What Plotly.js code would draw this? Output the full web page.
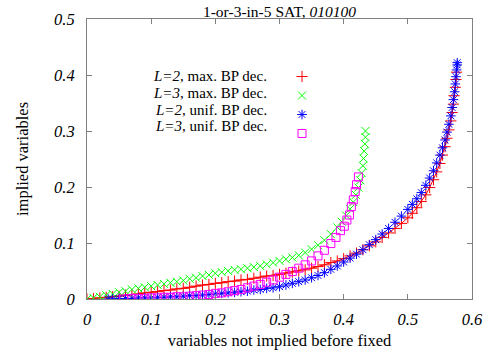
<!DOCTYPE html>
<html><head><meta charset="utf-8">
<script src="https://cdn.plot.ly/plotly-3.0.1.min.js"></script>
<style>html,body{margin:0;padding:0;background:#fff}#chart{width:500px;height:350px}</style>
</head><body><div id="chart"></div>
<script>
// L=2, max. BP dec.
const redX = [0, 0.01, 0.02, 0.03, 0.04, 0.05, 0.06, 0.07, 0.08, 0.09, 0.10, 0.11, 0.12, 0.13, 0.14, 0.15, 0.16, 0.17, 0.18, 0.19, 0.20, 0.21, 0.22, 0.23, 0.24, 0.25, 0.26, 0.27, 0.28, 0.29, 0.30, 0.31, 0.32, 0.33, 0.34, 0.35, 0.36, 0.37, 0.38, 0.39, 0.40, 0.41, 0.42, 0.43, 0.44, 0.45, 0.46, 0.47, 0.48, 0.49, 0.50, 0.507, 0.514, 0.521, 0.528, 0.534, 0.540, 0.545, 0.550, 0.554, 0.558, 0.561, 0.564, 0.567, 0.569, 0.571, 0.572, 0.574, 0.575, 0.576];
const redY = [0, 0.001, 0.002, 0.003, 0.004, 0.005, 0.007, 0.008, 0.009, 0.011, 0.012, 0.013, 0.015, 0.016, 0.018, 0.019, 0.021, 0.023, 0.025, 0.026, 0.028, 0.029, 0.031, 0.032, 0.034, 0.035, 0.037, 0.039, 0.041, 0.042, 0.044, 0.046, 0.048, 0.050, 0.052, 0.055, 0.058, 0.061, 0.065, 0.068, 0.072, 0.077, 0.082, 0.088, 0.095, 0.102, 0.110, 0.118, 0.126, 0.135, 0.145, 0.153, 0.163, 0.174, 0.186, 0.199, 0.213, 0.227, 0.242, 0.257, 0.272, 0.287, 0.302, 0.318, 0.333, 0.348, 0.363, 0.378, 0.392, 0.405];
// L=3, max. BP dec.
const greenX = [0, 0.01, 0.02, 0.03, 0.04, 0.05, 0.06, 0.07, 0.08, 0.09, 0.10, 0.11, 0.12, 0.13, 0.14, 0.15, 0.16, 0.17, 0.18, 0.19, 0.20, 0.21, 0.22, 0.23, 0.24, 0.25, 0.26, 0.27, 0.28, 0.29, 0.30, 0.31, 0.32, 0.33, 0.34, 0.35, 0.36, 0.37, 0.38, 0.39, 0.397, 0.404, 0.410, 0.415, 0.419, 0.423, 0.426, 0.428, 0.430, 0.431, 0.432, 0.433, 0.434, 0.434];
const greenY = [0, 0.002, 0.004, 0.007, 0.009, 0.012, 0.014, 0.017, 0.019, 0.021, 0.023, 0.025, 0.027, 0.029, 0.031, 0.033, 0.036, 0.038, 0.041, 0.043, 0.046, 0.048, 0.050, 0.052, 0.053, 0.055, 0.057, 0.059, 0.062, 0.065, 0.068, 0.071, 0.074, 0.078, 0.083, 0.089, 0.096, 0.105, 0.116, 0.128, 0.138, 0.149, 0.161, 0.173, 0.186, 0.199, 0.212, 0.225, 0.238, 0.251, 0.264, 0.277, 0.289, 0.300];
// L=2, unif. BP dec.
const blueX = [0.033, 0.04, 0.05, 0.06, 0.07, 0.08, 0.09, 0.10, 0.11, 0.12, 0.13, 0.14, 0.15, 0.16, 0.17, 0.18, 0.19, 0.20, 0.21, 0.22, 0.23, 0.24, 0.25, 0.26, 0.27, 0.28, 0.29, 0.30, 0.31, 0.32, 0.33, 0.34, 0.35, 0.36, 0.37, 0.38, 0.39, 0.40, 0.41, 0.42, 0.43, 0.44, 0.45, 0.46, 0.47, 0.48, 0.49, 0.50, 0.507, 0.514, 0.521, 0.528, 0.534, 0.540, 0.545, 0.550, 0.554, 0.558, 0.561, 0.564, 0.567, 0.569, 0.571, 0.573, 0.574, 0.575, 0.576, 0.577, 0.577];
const blueY = [0, 0.000, 0.001, 0.001, 0.001, 0.002, 0.002, 0.002, 0.003, 0.003, 0.004, 0.004, 0.005, 0.006, 0.006, 0.007, 0.008, 0.009, 0.010, 0.011, 0.012, 0.013, 0.014, 0.016, 0.017, 0.019, 0.020, 0.022, 0.025, 0.028, 0.031, 0.034, 0.038, 0.042, 0.047, 0.053, 0.059, 0.066, 0.073, 0.080, 0.088, 0.097, 0.106, 0.116, 0.126, 0.137, 0.148, 0.160, 0.169, 0.179, 0.190, 0.203, 0.216, 0.229, 0.243, 0.257, 0.270, 0.284, 0.298, 0.312, 0.327, 0.342, 0.356, 0.370, 0.384, 0.397, 0.409, 0.418, 0.422];
// L=3, unif. BP dec.
const magX = [0.057, 0.07, 0.08, 0.09, 0.10, 0.11, 0.12, 0.13, 0.14, 0.15, 0.16, 0.17, 0.18, 0.19, 0.20, 0.21, 0.22, 0.23, 0.24, 0.25, 0.26, 0.27, 0.28, 0.29, 0.30, 0.31, 0.32, 0.33, 0.34, 0.35, 0.36, 0.37, 0.38, 0.388, 0.395, 0.401, 0.405, 0.409, 0.412, 0.415, 0.418, 0.420, 0.423];
const magY = [0, 0.001, 0.001, 0.001, 0.002, 0.002, 0.003, 0.003, 0.004, 0.004, 0.005, 0.006, 0.007, 0.008, 0.010, 0.011, 0.013, 0.015, 0.017, 0.020, 0.023, 0.026, 0.030, 0.034, 0.039, 0.044, 0.049, 0.055, 0.061, 0.068, 0.077, 0.087, 0.099, 0.110, 0.122, 0.130, 0.141, 0.150, 0.165, 0.177, 0.192, 0.204, 0.218];

const legendLabels = ["<i>L=2</i>, max. BP dec.", "<i>L=3</i>, max. BP dec.", "<i>L=2</i>, unif. BP dec.", "<i>L=3</i>, unif. BP dec."];
const xTicks = [0, 0.1, 0.2, 0.3, 0.4, 0.5, 0.6];
const yTicks = [0, 0.1, 0.2, 0.3, 0.4, 0.5];

const FONT = "Liberation Serif, Times New Roman, serif";
const RED = "#ff0000", GREEN = "#00ff00", BLUE = "#0000ff", MAGENTA = "#ff00ff";
const mk = (sym, col) => ({symbol: sym, size: 8, color: col, line: {color: col, width: 1}});

const traces = [
  {x: redX, y: redY, mode: "lines", showlegend: false, hoverinfo: "skip", line: {color: RED, width: 1}},
  {x: redX, y: redY, mode: "markers", name: " ", marker: mk("cross-thin-open", RED)},
  {x: greenX, y: greenY, mode: "markers", name: " ", marker: mk("x-thin-open", GREEN)},
  {x: blueX, y: blueY, mode: "markers", name: " ", marker: mk("asterisk-open", BLUE)},
  {x: magX, y: magY, mode: "markers", name: " ", marker: mk("square-open", MAGENTA)}
];

const legendTop = 76, legendStep = 16.8;
const annotations = legendLabels.map((t, i) => ({
  text: t, xref: "paper", yref: "paper",
  x: (268 - 87) / 385, y: 1 - (legendTop + i * legendStep - 19) / 280,
  xanchor: "right", yanchor: "middle", showarrow: false, borderpad: 0,
  font: {family: FONT, size: 15, color: "#000"}
}));

const axisCommon = {
  showgrid: false, zeroline: false, showline: true, linecolor: "#808080", linewidth: 1,
  mirror: "ticks", ticks: "inside", ticklen: 5, tickcolor: "#808080", tickwidth: 1,
  tickfont: {family: FONT, size: 16.5, color: "#000", style: "italic"}
};

const layout = {
  width: 500, height: 350,
  margin: {l: 87, r: 28, t: 19, b: 51},
  paper_bgcolor: "#fff", plot_bgcolor: "#fff",
  title: {text: "1-or-3-in-5 SAT, <i>010100</i>", x: 0.5, xref: "paper", y: 0.982, yanchor: "top", font: {family: FONT, size: 15.5, color: "#000"}},
  xaxis: Object.assign({}, axisCommon, {range: [0, 0.6], tickvals: xTicks, ticktext: xTicks.map(String), ticklabelstandoff: 5,
    title: {text: "variables not implied before fixed", font: {family: FONT, size: 16.5, color: "#000"}, standoff: 6}}),
  yaxis: Object.assign({}, axisCommon, {range: [0, 0.5], tickvals: yTicks, ticktext: yTicks.map(String), ticklabelstandoff: 8,
    title: {text: "implied variables", font: {family: FONT, size: 16.5, color: "#000"}, standoff: 21}}),
  showlegend: true,
  legend: {x: (282 - 87) / 385, y: 1 - (legendTop - 14 - 19) / 280, xanchor: "left", yanchor: "top",
    bgcolor: "rgba(0,0,0,0)", font: {family: FONT, size: 11}, tracegroupgap: 0, itemwidth: 30},
  annotations: annotations
};

Plotly.newPlot("chart", traces, layout, {displayModeBar: false, staticPlot: true});
</script></body></html>
